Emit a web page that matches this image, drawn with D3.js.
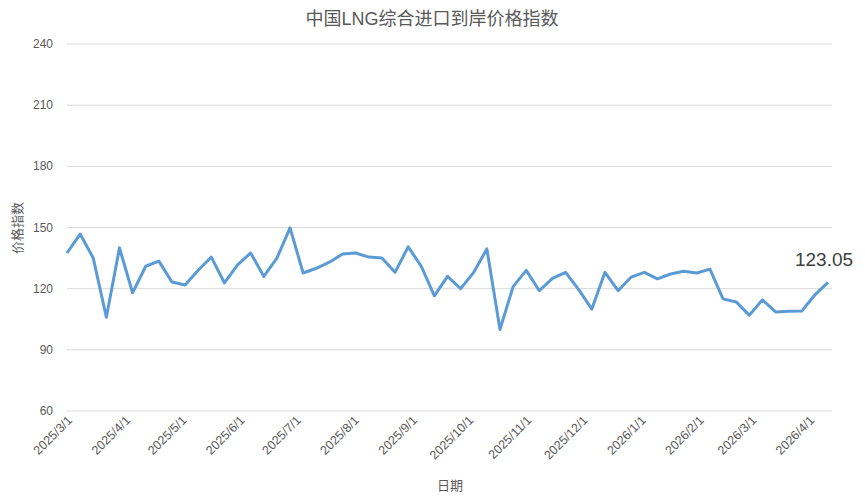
<!DOCTYPE html>
<html><head><meta charset="utf-8">
<script src="https://cdn.jsdelivr.net/npm/d3@7"></script>
<style>body{margin:0;background:#fff;font-family:"Liberation Sans","Noto Sans CJK SC",sans-serif}</style>
</head><body><svg id="c" width="865" height="502"></svg>
<script>
var dates = ["2025-03-01","2025-03-08","2025-03-15","2025-03-22","2025-03-29","2025-04-05","2025-04-12","2025-04-19","2025-04-26",
  "2025-05-03","2025-05-10","2025-05-17","2025-05-24","2025-05-31","2025-06-07","2025-06-14","2025-06-21","2025-06-28",
  "2025-07-05","2025-07-12","2025-07-19","2025-07-26","2025-08-02","2025-08-09","2025-08-16","2025-08-23","2025-08-30",
  "2025-09-06","2025-09-13","2025-09-20","2025-09-27","2025-10-04","2025-10-11","2025-10-18","2025-10-25","2025-11-01",
  "2025-11-08","2025-11-15","2025-11-22","2025-11-29","2025-12-06","2025-12-13","2025-12-20","2025-12-27","2026-01-03",
  "2026-01-10","2026-01-17","2026-01-24","2026-01-31","2026-02-07","2026-02-14","2026-02-21","2026-02-28","2026-03-07",
  "2026-03-14","2026-03-21","2026-03-28","2026-04-04","2026-04-11"];
var values = [137.5,146.8,135,106,140,118,131,133.5,123.3,121.8,129,135.5,122.8,131.7,137.5,126,135,149.8,127.7,130,133,
  137,137.5,135.5,135,128,140.5,131,116.5,126,120,128,139.5,100,121,129,119,125,128,119.5,110,128,119,125.7,128,124.8,
  127.2,128.5,127.7,129.6,115,113.5,107,114.5,108.6,108.9,109,117,123.05];
var yTicks = [60,90,120,150,180,210,240];
var monthTicks = ["2025-03-01","2025-04-01","2025-05-01","2025-06-01","2025-07-01","2025-08-01","2025-09-01","2025-10-01",
  "2025-11-01","2025-12-01","2026-01-01","2026-02-01","2026-03-01","2026-04-01"];

var parse = d3.timeParse("%Y-%m-%d");
var fmt = function(d){ return d.getFullYear() + "/" + (d.getMonth()+1) + "/" + d.getDate(); };
var svg = d3.select("#c");
var plotL = 67, plotR = 828, plotT = 44, plotB = 411;

var x = d3.scaleTime().domain([parse(dates[0]), parse(dates[dates.length-1])]).range([plotL, plotR]);
var y = d3.scaleLinear().domain([60,240]).range([plotB, plotT]);

svg.append("g").selectAll("line").data(yTicks).enter().append("line")
  .attr("x1", plotL).attr("x2", 832).attr("y1", function(d){return y(d);}).attr("y2", function(d){return y(d);})
  .attr("stroke", "#d9d9d9").attr("stroke-width", 1);

svg.append("g").selectAll("text").data(yTicks).enter().append("text")
  .attr("x", 53).attr("y", function(d){return y(d)+4;}).attr("text-anchor","end")
  .attr("font-size", 12).attr("fill", "#595959").text(function(d){return d;});

svg.append("g").selectAll("text").data(monthTicks.map(parse)).enter().append("text")
  .attr("transform", function(d){ return "translate(" + (x(d)+6) + ",421) rotate(-45)"; })
  .attr("text-anchor","end").attr("font-size", 12.5).attr("fill", "#595959").text(fmt);

var line = d3.line().x(function(d,i){return x(parse(dates[i]));}).y(function(d){return y(d);});
svg.append("path").datum(values).attr("d", line).attr("fill","none")
  .attr("stroke","#5b9bd5").attr("stroke-width",3).attr("stroke-linejoin","round");

var last = values.length-1;
svg.append("text").attr("x", x(parse(dates[last]))-4).attr("y", y(values[last])-16)
  .attr("text-anchor","middle").attr("font-size",19).attr("fill","#404040").text(values[last].toFixed(2));

svg.append("text").attr("x", 432).attr("y", 25).attr("text-anchor","middle")
  .attr("font-size", 18).attr("fill","#595959").text("中国LNG综合进口到岸价格指数");
svg.append("text").attr("transform","translate(22,228) rotate(-90)").attr("text-anchor","middle")
  .attr("font-size", 13).attr("fill","#595959").text("价格指数");
svg.append("text").attr("x", 450).attr("y", 490).attr("text-anchor","middle")
  .attr("font-size", 13).attr("fill","#595959").text("日期");
</script></body></html>
